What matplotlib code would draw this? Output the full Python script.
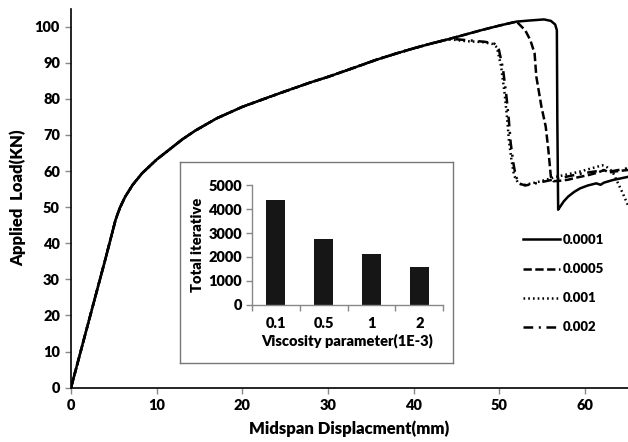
import matplotlib
matplotlib.use("Agg")
import matplotlib.pyplot as plt
import numpy as np

plt.rcParams['font.family'] = ['Lato', 'DejaVu Sans']
plt.rcParams['font.weight'] = 'heavy'
plt.rcParams['lines.scale_dashes'] = False

# shared elastic/plastic branch (Midspan displacement mm, Load kN)
base_x = [0, 2, 4, 5.2, 5.7, 6.3, 7.2, 8.3, 10, 11.5, 13, 14.5, 17, 20, 24.4, 28, 30,
          33, 35.6, 38, 40, 42, 44]
base_y = [0, 17.8, 35.5, 46.5, 49.8, 52.8, 56.2, 59.4, 63.2, 66, 68.8, 71.2, 74.6, 77.8,
          81.6, 84.6, 86.1, 88.6, 90.8, 92.6, 94, 95.3, 96.5]
late_x = [46, 48, 50, 52]
late_y = [97.8, 99.1, 100.3, 101.4]

# 0.0001 tail
s1_x = [53.5, 55.2, 56.0, 56.5, 56.7, 56.75, 56.85, 57.1, 57.5, 58.0, 58.7, 59.4, 60.3,
        61.3, 61.8, 62.2, 63.2, 64.0, 65.0]
s1_y = [101.7, 102.0, 101.6, 100.6, 99.0, 75, 49.3, 50.2, 51.6, 52.9, 54.2, 55.2, 56.0,
        56.6, 56.2, 56.8, 57.5, 57.9, 58.4]
# 0.0005 tail
s2_x = [53.0, 53.6, 54.1, 54.3, 54.9, 55.4, 55.7, 56.0, 56.3, 57, 58, 59, 60.4, 61.5,
        62.2, 62.8, 63.5, 65]
s2_y = [99.0, 96.3, 92.6, 86.2, 77.8, 72.3, 66.0, 58.4, 57.2, 57.3, 57.6, 58.2, 58.9,
        59.6, 60.3, 59.6, 59.9, 60.3]
# 0.001 tail
s3_x = [44.6, 46, 48.1, 49.2, 49.7, 50.2, 50.6, 50.9, 51.1, 51.4, 51.7, 52.2, 52.8, 54.7,
        56.6, 59.3, 62.0, 62.6, 63.2, 64.4, 65]
s3_y = [96.4, 96.0, 95.7, 95.2, 94.3, 88.9, 81.5, 74.5, 68.6, 63.1, 58.8, 56.6, 56.1, 57.1,
        58.4, 59.8, 61.6, 61.0, 59.8, 53.8, 50.5]
# 0.002 tail
s4_x = [45.0, 46.5, 48.3, 49.4, 49.9, 50.4, 50.8, 51.1, 51.3, 51.6, 51.9, 52.4, 53.0, 55,
        57, 59.5, 62.0, 63.0, 65]
s4_y = [96.5, 96.2, 95.8, 95.3, 94.0, 88.5, 81.0, 74.0, 68.0, 62.5, 58.5, 56.5, 56.0, 57.0,
        58.0, 59.3, 60.2, 59.9, 60.8]

labels = ['0.0001', '0.0005', '0.001', '0.002']

# inset bar chart
visc = ['0.1', '0.5', '1', '2']
iterations = [4370, 2750, 2120, 1580]

W, H = 628, 442
fig = plt.figure(figsize=(W / 100, H / 100), dpi=100)

def fr(l, t, r, b):
    return [l / W, 1 - b / H, (r - l) / W, (b - t) / H]

ax = fig.add_axes(fr(71, 8.6, 628, 387.7))
lw = 1.8
bx1 = base_x + late_x
by1 = base_y + late_y
ax.plot(bx1 + s1_x, by1 + s1_y, color='black', lw=lw, ls='-', label=labels[0], zorder=5)
ax.plot(bx1 + s2_x, by1 + s2_y, color='black', lw=lw, ls=(0, (6, 2.5)), label=labels[1], zorder=4)
ax.plot(base_x + s3_x, base_y + s3_y, color='black', lw=lw, ls=(0, (1.2, 2.2)), label=labels[2], zorder=3)
ax.plot(base_x + s4_x, base_y + s4_y, color='black', lw=lw, ls=(0, (7, 4, 1.5, 4)), label=labels[3], zorder=2)

ax.set_xlim(0, 65)
ax.set_ylim(0, 105)
ax.set_xticks(np.arange(0, 61, 10))
ax.set_yticks(np.arange(0, 101, 10))
for s in ['top', 'right']:
    ax.spines[s].set_visible(False)
for s in ['left', 'bottom']:
    ax.spines[s].set_linewidth(1.2)
ax.tick_params(direction='out', length=4, width=1, color='#888888', labelsize=10.5, pad=4)
ax.set_xlabel('Midspan Displacment(mm)', fontsize=12, fontweight='heavy', labelpad=6)
ax.set_ylabel('Applied  Load(KN)', fontsize=12, fontweight='heavy', labelpad=6)

leg = ax.legend(loc='upper left', bbox_to_anchor=(523 / W, 1 - 234 / H),
                bbox_transform=fig.transFigure, frameon=False, fontsize=9.5,
                handlelength=2.8, handletextpad=0.2, labelspacing=1.3,
                borderpad=0, borderaxespad=0)

# inset frame
frame = fig.add_axes(fr(180, 161.7, 453, 363))
frame.set_xticks([])
frame.set_yticks([])
for s in frame.spines.values():
    s.set_color('#777777')
    s.set_linewidth(1.0)
frame.set_zorder(10)

ins = fig.add_axes(fr(251.7, 185, 443.3, 305))
ins.set_zorder(11)
ins.patch.set_alpha(0)
pos = np.arange(len(visc))
ins.bar(pos, iterations, width=0.4, color='#161616')
ins.set_xlim(-0.5, len(visc) - 0.5)
ins.set_ylim(0, 5000)
ins.set_yticks(np.arange(0, 5001, 1000))
ins.set_xticks(pos)
ins.set_xticklabels(visc)
ins.set_xticks(np.arange(-0.5, len(visc), 1), minor=True)
ins.tick_params(axis='x', which='major', length=0, labelsize=10.5, pad=9)
ins.tick_params(axis='x', which='minor', length=4, width=1, color='#888888', direction='out')
ins.tick_params(axis='y', length=4, width=1, color='#888888', direction='out', labelsize=10.5, pad=3)
for s in ['top', 'right']:
    ins.spines[s].set_visible(False)
for s in ['left', 'bottom']:
    ins.spines[s].set_color('#888888')
    ins.spines[s].set_linewidth(1.0)
ins.set_xlabel('Viscosity parameter(1E-3)', fontsize=10.5, fontweight='heavy', labelpad=2)
ins.set_ylabel('Total iterative', fontsize=10.5, fontweight='heavy', labelpad=3)

fig.savefig('out.png', dpi=100)
